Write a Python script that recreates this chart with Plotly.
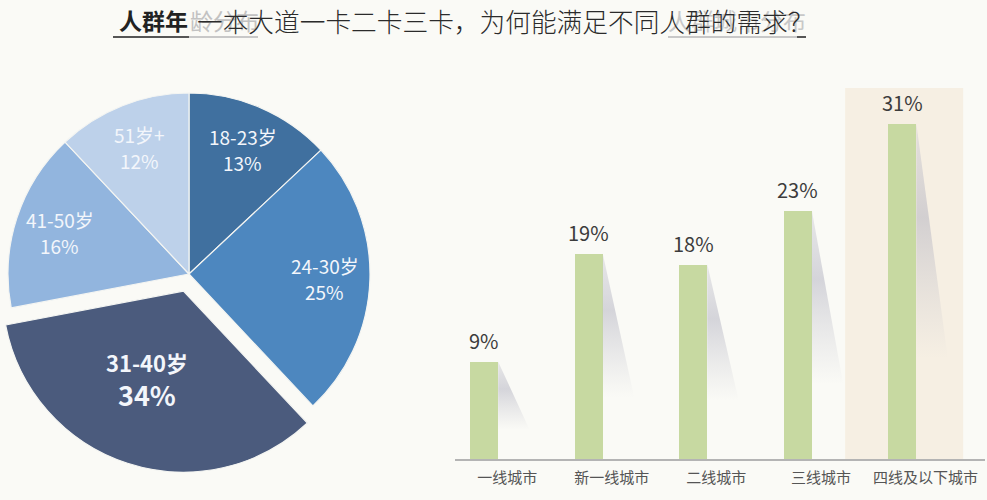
import math
import plotly.graph_objects as go

# ---------------- data ----------------
age_groups = ["18-23岁", "24-30岁", "31-40岁", "41-50岁", "51岁+"]
age_share = [13, 25, 34, 16, 12]
age_colors = ["#40709f", "#4d87bf", "#4b5b7d", "#92b5de", "#bdd1ea"]
highlight_age = "31-40岁"

cities = ["一线城市", "新一线城市", "二线城市", "三线城市", "四线及以下城市"]
city_share = [9, 19, 18, 23, 31]
highlight_city = "四线及以下城市"

main_title = "一本大道一卡二卡三卡，为何能满足不同人群的需求？"
left_title_a = "人群年"
left_title_b = "龄分布"
right_title = "人群城市分布"

# ---------------- geometry / style ----------------
W, H = 987, 500
BG = "#fafaf6"
FONT = "Noto Sans CJK SC"
TRANSP = "rgba(0,0,0,0)"

PIE_CX, PIE_CY, PIE_R = 189, 274, 181   # pixels
PULL_PX = 18


def dom_x(cx, r):
    return [(cx - r) / W, (cx + r) / W]


def dom_y(cy, r):
    return [1 - (cy + r) / H, 1 - (cy - r) / H]


total = sum(age_share)
cum = 0
mids = []
for v in age_share:
    mids.append(math.radians(360 * (cum + v / 2) / total))
    cum += v

hi = age_groups.index(highlight_age)
pcx = PIE_CX + PULL_PX * math.sin(mids[hi])
pcy = PIE_CY - PULL_PX * math.cos(mids[hi])

fig = go.Figure()

# base pie (highlighted slice invisible)
fig.add_trace(go.Pie(
    labels=age_groups, values=age_share, sort=False, direction="clockwise",
    rotation=0,
    marker=dict(colors=[TRANSP if i == hi else c for i, c in enumerate(age_colors)],
                line=dict(color=[TRANSP if i == hi else "#f4f5f2" for i in range(len(age_groups))],
                          width=1.2)),
    textinfo="none", hoverinfo="label+percent", showlegend=False,
    domain=dict(x=dom_x(PIE_CX, PIE_R), y=dom_y(PIE_CY, PIE_R)),
))
# pulled-out slice
fig.add_trace(go.Pie(
    labels=age_groups, values=age_share, sort=False, direction="clockwise",
    rotation=0,
    marker=dict(colors=[c if i == hi else TRANSP for i, c in enumerate(age_colors)],
                line=dict(color=["#f4f5f2" if i == hi else TRANSP for i in range(len(age_groups))],
                          width=1.2)),
    textinfo="none", hoverinfo="label+percent", showlegend=False,
    domain=dict(x=dom_x(pcx, PIE_R), y=dom_y(pcy, PIE_R)),
))

annotations = []
for i, (g, v) in enumerate(zip(age_groups, age_share)):
    if i == hi:
        cx, cy, f, rot = pcx, pcy, 0.52, math.radians(5)
        name_font, val_font, up, down, bold = 22, 27, 16, -17, True
    else:
        cx, cy, f, rot = PIE_CX, PIE_CY, 0.75, 0
        name_font, val_font, up, down, bold = 19, 19, 13, -13, False
    px = cx + f * PIE_R * math.sin(mids[i] + rot)
    py = cy - f * PIE_R * math.cos(mids[i] + rot)
    for txt, size, shift in ((g, name_font, up), (f"{v}%", val_font, down)):
        annotations.append(dict(
            x=px / W, y=1 - py / H, xref="paper", yref="paper",
            text=f"<b>{txt}</b>" if bold else txt,
            showarrow=False, font=dict(family=FONT, size=size, color="#f3f6fb"),
            xanchor="center", yanchor="middle", yshift=shift))

# ---------------- bar chart ----------------
x_idx = list(range(len(cities)))
BAR_W = 0.268
BAR_OFF = -0.355
SHADOW_W = 0.43

for i, v in zip(x_idx, city_share):
    xr = i + BAR_OFF + BAR_W
    fig.add_trace(go.Scatter(
        x=[xr, xr + SHADOW_W, xr, xr], y=[v, 0, 0, v],
        mode="lines", line=dict(width=0, color=TRANSP), fill="toself",
        fillgradient=dict(type="vertical",
                          colorscale=[[0, "rgba(190,190,200,0)"],
                                      [0.3, "rgba(190,190,200,0)"],
                                      [0.72, "rgba(175,175,190,0.5)"],
                                      [1, "rgba(195,195,205,0.35)"]]),
        hoverinfo="skip", showlegend=False, xaxis="x", yaxis="y"))

fig.add_trace(go.Bar(
    x=x_idx, y=city_share, width=BAR_W, offset=BAR_OFF,
    marker=dict(color="#c7d9a1", line=dict(width=0)),
    showlegend=False, xaxis="x", yaxis="y",
    hovertemplate="%{customdata}: %{y}%<extra></extra>", customdata=cities))

for i, v in zip(x_idx, city_share):
    annotations.append(dict(
        x=i + BAR_OFF + BAR_W / 2, y=v, xref="x", yref="y", text=f"{v}%",
        showarrow=False, xanchor="center", yanchor="middle", yshift=21,
        font=dict(family=FONT, size=20, color="#3c3c3c")))

hc = cities.index(highlight_city)
shapes = [dict(type="rect", xref="x", yref="y", x0=hc - 0.768, x1=hc + 0.361,
               y0=0, y1=34.3, fillcolor="#f6efe3", line=dict(width=0), layer="below")]

# ---------------- titles ----------------
annotations += [
    dict(x=117 / W, y=1 - 20 / H, xref="paper", yref="paper", xanchor="left", yanchor="middle",
         text=f"<b>{left_title_a}</b>", showarrow=False,
         font=dict(family=FONT, size=23, color="#222222")),
    dict(x=188 / W, y=1 - 20 / H, xref="paper", yref="paper", xanchor="left", yanchor="middle",
         text=left_title_b, showarrow=False,
         font=dict(family=FONT, size=23, color="#c2c2c2")),
    dict(x=666 / W, y=1 - 20 / H, xref="paper", yref="paper", xanchor="left", yanchor="middle",
         text=right_title, showarrow=False,
         font=dict(family=FONT, size=23, color="#c8c8c8")),
    dict(x=505 / W, y=1 - 20 / H, xref="paper", yref="paper", xanchor="center", yanchor="middle",
         text=main_title, showarrow=False,
         font=dict(family=FONT, size=25.7, color="#2b2b2b", weight=300)),
]
shapes += [
    dict(type="line", xref="paper", yref="paper", x0=113 / W, x1=189 / W,
         y0=1 - 37 / H, y1=1 - 37 / H, line=dict(color="#555555", width=2)),
    dict(type="line", xref="paper", yref="paper", x0=189 / W, x1=258 / W,
         y0=1 - 37 / H, y1=1 - 37 / H, line=dict(color="#c8c8c8", width=2)),
    dict(type="line", xref="paper", yref="paper", x0=668 / W, x1=797 / W,
         y0=1 - 37 / H, y1=1 - 37 / H, line=dict(color="#c8c8c8", width=2)),
    dict(type="line", xref="paper", yref="paper", x0=797 / W, x1=806 / W,
         y0=1 - 37 / H, y1=1 - 37 / H, line=dict(color="#555555", width=2)),
]

fig.update_layout(
    width=W, height=H, margin=dict(l=0, r=0, t=0, b=0),
    paper_bgcolor=BG, plot_bgcolor=BG,
    font=dict(family=FONT),
    xaxis=dict(domain=[455 / W, 985 / W], range=[-0.5, 4.57],
               tickvals=x_idx, ticktext=cities, showgrid=False, zeroline=False,
               showline=True, linecolor="#b4b4b4", linewidth=2, ticks="",
               ticklabelstandoff=4,
               tickfont=dict(family=FONT, size=15, color="#555555"), fixedrange=True),
    yaxis=dict(domain=[1 - 459 / H, 1 - 69.5 / H], range=[0, 36], visible=False,
               fixedrange=True),
    annotations=annotations, shapes=shapes, bargap=0,
)

fig.write_html("out.html", config={"displayModeBar": False},
               post_script="document.body.style.margin='0';document.body.style.background='%s';" % BG)
